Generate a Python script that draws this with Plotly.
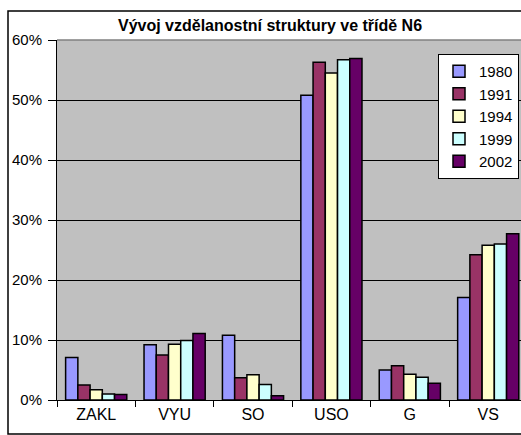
import plotly.graph_objects as go

categories = ["ZAKL", "VYU", "SO", "USO", "G", "VS"]
years = ["1980", "1991", "1994", "1999", "2002"]
v1980 = [7.1, 9.2, 10.8, 50.8, 5.0, 17.1]
v1991 = [2.5, 7.5, 3.7, 56.3, 5.7, 24.2]
v1994 = [1.7, 9.3, 4.2, 54.5, 4.3, 25.8]
v1999 = [1.0, 9.9, 2.6, 56.7, 3.8, 26.0]
v2002 = [0.9, 11.1, 0.7, 56.9, 2.8, 27.7]
colors = ["#9999FF", "#993366", "#FFFFCC", "#CCFFFF", "#660066"]
series = [v1980, v1991, v1994, v1999, v2002]

W, H = 521, 435
ML, MR, MT, MB = 57, 0, 40, 35
PW, PH = W - ML - MR, H - MT - MB

def px(x):
    return (x - ML) / PW

def py(y):
    return (H - MB - y) / PH

fig = go.Figure()
for name, vals, col in zip(years, series, colors):
    fig.add_trace(go.Bar(
        x=categories, y=vals, name=name,
        marker=dict(color=col, line=dict(color="black", width=1.5)),
    ))

fig.update_layout(
    width=W, height=H,
    margin=dict(l=ML, r=MR, t=MT, b=MB, autoexpand=False),
    paper_bgcolor="white",
    plot_bgcolor="#C0C0C0",
    barmode="group",
    bargap=0.22,
    bargroupgap=0,
    font=dict(family="Liberation Sans, Arial", color="black", size=15),
    title=dict(
        text="<b>Vývoj vzdělanostní struktury ve třídě N6</b>",
        font=dict(size=16, family="Liberation Sans, Arial", color="black"),
        x=270 / W, xanchor="center", xref="container",
        y=1 - 25 / H, yanchor="middle", yref="container",
    ),
    showlegend=True,
    legend=dict(
        x=px(438), y=py(54), xanchor="left", yanchor="top",
        bgcolor="white", bordercolor="black", borderwidth=1,
        font=dict(size=15, family="Liberation Sans, Arial", color="black"),
        tracegroupgap=0, itemwidth=30,
    ),
    xaxis=dict(
        range=[-0.5, 5.418], automargin=False,
        tickson="boundaries",
        ticks="outside", ticklen=6, tickcolor="black", tickwidth=1,
        showline=True, linecolor="black", linewidth=1,
        showgrid=False,
        tickfont=dict(size=16),
    ),
    yaxis=dict(
        range=[0, 60], dtick=10, ticksuffix="%", automargin=False,
        ticks="outside", ticklen=8, tickcolor="black", tickwidth=1,
        showline=True, linecolor="black", linewidth=1,
        showgrid=True, gridcolor="black", gridwidth=1,
        zeroline=False,
        tickfont=dict(size=15),
        ticklabelstandoff=3,
    ),
    shapes=[
        dict(type="rect", xref="paper", yref="paper",
             x0=px(8), x1=1.02, y0=py(434), y1=py(11),
             line=dict(color="black", width=1.5), fillcolor="rgba(0,0,0,0)", layer="below"),
        dict(type="line", xref="paper", yref="paper",
             x0=0, x1=1, y0=1, y1=1,
             line=dict(color="#808080", width=1.5)),
    ],
)

fig.write_html(
    "out.html",
    config={"displayModeBar": False},
    post_script="document.body.style.margin='0';document.body.style.overflow='hidden';",
)
